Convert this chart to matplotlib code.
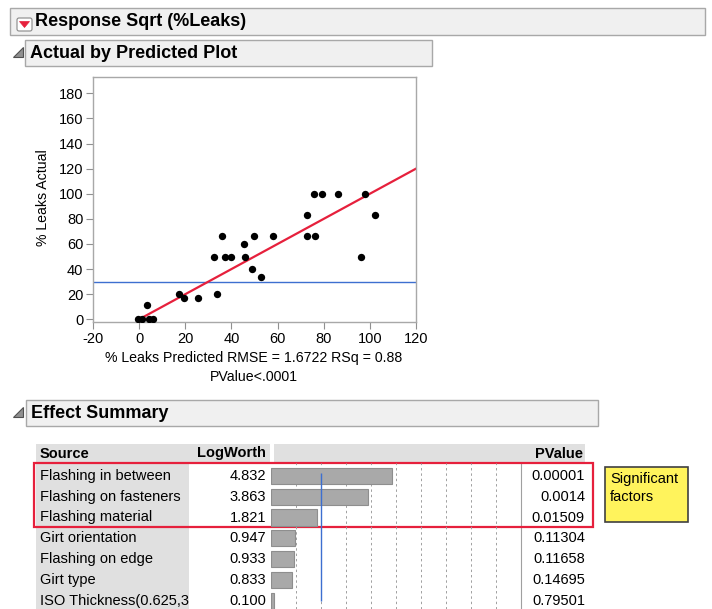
import matplotlib
matplotlib.use('Agg')
import matplotlib.pyplot as plt
from matplotlib.patches import Rectangle, Polygon, FancyBboxPatch

plt.rcParams['font.family'] = ['Liberation Sans', 'DejaVu Sans']
plt.rcParams['axes.unicode_minus'] = False

# actual by predicted data (% leaks)
pred = [-0.4, 1.4, 3.4, 4.4, 6.0, 17.3, 19.4, 25.7, 32.6, 33.7, 36.1, 37.4, 39.6, 45.6,
        45.9, 49.0, 49.6, 52.7, 58.0, 72.6, 72.6, 75.7, 76.4, 79.3, 86.3, 96.3, 98.1, 102.1]
actual = [0, 0, 11.1, 0, 0, 20, 16.7, 16.7, 50, 20, 66.7, 50, 50, 60,
          50, 40, 66.7, 33.3, 66.7, 83.3, 66.7, 100, 66.7, 100, 100, 50, 100, 83.3]
fit_x = [2.0, 120.0]
fit_y = [2.0, 120.0]
mean_y = 29.7
xticks = [-20, 0, 20, 40, 60, 80, 100, 120]
yticks = [0, 20, 40, 60, 80, 100, 120, 140, 160, 180]

# effect summary
sources = ['Flashing in between', 'Flashing on fasteners', 'Flashing material',
           'Girt orientation', 'Flashing on edge', 'Girt type', 'ISO Thickness(0.625,3']
logworth = [4.832, 3.863, 1.821, 0.947, 0.933, 0.833, 0.100]
pvalues = ['0.00001', '0.0014', '0.01509', '0.11304', '0.11658', '0.14695', '0.79501']

W, H = 712, 609
fig = plt.figure(figsize=(W / 100, H / 100), dpi=100)
fig.patch.set_facecolor('white')


def px_axes(x0, y0, x1, y1):
    return fig.add_axes([x0 / W, 1 - y1 / H, (x1 - x0) / W, (y1 - y0) / H])


bg = fig.add_axes([0, 0, 1, 1])
bg.set_xlim(0, W)
bg.set_ylim(H, 0)
bg.axis('off')

FS = 10.5
red = '#e6203c'
blue = '#3d6fd0'


def header_bar(x0, y0, x1, y1, title):
    bg.add_patch(Rectangle((x0, y0), x1 - x0, y1 - y0, facecolor='#f0f0f0',
                           edgecolor='#a8a8a8', lw=1))
    bg.text(x0 + 5, (y0 + y1) / 2 + 0.5, title, fontsize=13, fontweight='bold',
            va='center', ha='left')


def tri(x0, y0, s):
    bg.add_patch(Polygon([(x0, y0 + s), (x0 + s, y0 + s), (x0 + s, y0)], closed=True,
                         facecolor='#909090', edgecolor='#505050', lw=0.8))


# section headers
bg.add_patch(Rectangle((10, 8), 695, 27, facecolor='#f0f0f0', edgecolor='#a8a8a8', lw=1))
bg.text(35, 22, 'Response Sqrt (%Leaks)', fontsize=13, fontweight='bold', va='center')
bg.add_patch(FancyBboxPatch((17, 18), 15, 13, boxstyle='round,pad=0,rounding_size=2',
                            facecolor='white', edgecolor='#888888', lw=0.8))
bg.add_patch(Polygon([(19.5, 21.5), (29.5, 21.5), (24.5, 27.5)], closed=True,
                     facecolor=red, edgecolor=red, lw=0.5))

header_bar(25, 40, 432, 66, 'Actual by Predicted Plot')
tri(13, 47, 10)
header_bar(26, 400, 598, 426, 'Effect Summary')
tri(13, 407, 10)

# actual by predicted plot
ax = px_axes(93, 77, 416, 322)
ax.scatter(pred, actual, s=28, color='black', zorder=3, linewidths=0)
ax.plot(fit_x, fit_y, color=red, lw=1.6, zorder=2)
ax.axhline(mean_y, color=blue, lw=1.0, zorder=1)
ax.set_xlim(-20, 120)
ax.set_ylim(-2.15, 193)
ax.set_xticks(xticks)
ax.set_yticks(yticks)
ax.tick_params(direction='out', length=5, width=0.8, color='#909090',
               labelsize=FS, pad=2)
for sp in ax.spines.values():
    sp.set_color('#a8a8a8')
    sp.set_linewidth(1)
bg.text(43, 198, '% Leaks Actual', rotation=90, fontsize=10.2, ha='center', va='center')
bg.text(254, 358, '% Leaks Predicted RMSE = 1.6722 RSq = 0.88', fontsize=10.2,
        ha='center', va='center')
bg.text(254, 377, 'PValue<.0001', fontsize=10.2, ha='center', va='center')

# effect summary table
gray = '#e0e0e0'
row_top = 465.5
row_h = 20.8
bg.add_patch(Rectangle((36, 444), 234, 19, facecolor=gray, lw=0))
bg.add_patch(Rectangle((274, 444), 311, 19, facecolor=gray, lw=0))
bg.add_patch(Rectangle((36, 463), 153, H - 463, facecolor=gray, lw=0))
bg.text(40, 453.5, 'Source', fontsize=FS, fontweight='bold', va='center')
bg.text(266, 453.5, 'LogWorth', fontsize=FS, fontweight='bold', va='center', ha='right')
bg.text(583, 453.5, 'PValue', fontsize=FS, fontweight='bold', va='center', ha='right')
for i, (src, lw_, pv) in enumerate(zip(sources, logworth, pvalues)):
    yc = row_top + row_h * (i + 0.5)
    bg.text(40, yc, src, fontsize=FS, va='center', ha='left')
    bg.text(266, yc, f'{lw_:.3f}', fontsize=FS, va='center', ha='right')
    bg.text(585, yc, pv, fontsize=FS, va='center', ha='right')

bx = px_axes(271, 463, 521, H)
n = len(logworth)
bx.barh(range(n), logworth, height=0.77, color='#a9a9a9', edgecolor='#8e8e8e',
        lw=0.8, zorder=2)
for g in range(1, 10):
    bx.axvline(g, color='#a0a0a0', lw=0.7, ls=(0, (2.5, 3)), zorder=1)
bx.vlines(2, -0.15, n - 1, color=blue, lw=1.0, zorder=3)
bx.set_xlim(0, 10)
bx.set_ylim((H - 463) / row_h - (row_top - 463) / row_h - 0.5, -0.5 - (row_top - 463) / row_h)
bx.axis('off')
bg.plot([521, 521], [463, H], color='#a0a0a0', lw=0.8)

# significant box
bg.add_patch(Rectangle((34, 463), 559, 64, fill=False, edgecolor=red, lw=1.6, zorder=5))
bg.add_patch(Rectangle((605, 467), 83, 55, facecolor='#fff35c', edgecolor='#404040', lw=1.2))
bg.text(610, 479, 'Significant', fontsize=FS, va='center')
bg.text(610, 497, 'factors', fontsize=FS, va='center')

fig.savefig('out.png', dpi=100)
